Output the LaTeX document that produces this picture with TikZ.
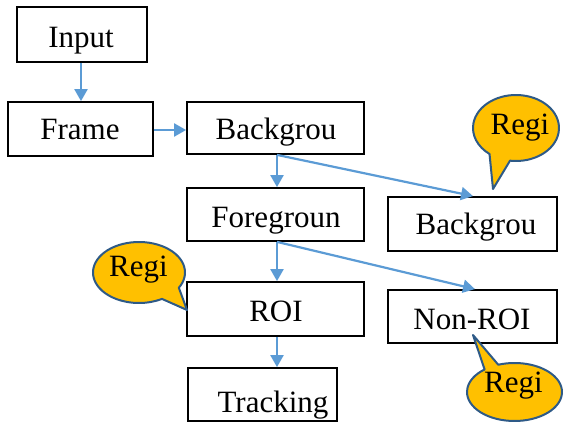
\documentclass[tikz,border=0pt]{standalone}
\usepackage{fontspec}
\setmainfont{Liberation Serif}
\usetikzlibrary{arrows.meta}
\definecolor{arrowblue}{HTML}{5B9BD5}
\definecolor{calloutfill}{HTML}{FFC000}
\definecolor{calloutline}{HTML}{2E5A87}
\begin{document}
\begin{tikzpicture}[x=1pt,y=1pt,
  box/.style={draw=black, line width=1.8pt, inner sep=0pt, fill=white},
  lbl/.style={anchor=base, inner sep=0pt, font=\fontsize{31}{37}\selectfont},
  flow/.style={draw=arrowblue, line width=2.2pt, -{Triangle[length=12pt,width=13pt]}},
  callout/.style={fill=calloutfill, draw=calloutline, line width=2pt, line join=round}]
\useasboundingbox (0,0) rectangle (563,423);

% boxes
\node[box, minimum width=130pt, minimum height=55pt] (input) at (82,388.5) {};
\node[box, minimum width=145pt, minimum height=54pt] (frame) at (80.5,294) {};
\node[box, minimum width=177pt, minimum height=52pt] (bg1) at (275.5,295) {};
\node[box, minimum width=177pt, minimum height=53pt] (fg) at (275.5,208.5) {};
\node[box, minimum width=169pt, minimum height=54pt] (bg2) at (472.5,199) {};
\node[box, minimum width=177pt, minimum height=54pt] (roi) at (275.5,114) {};
\node[box, minimum width=169pt, minimum height=53pt] (nonroi) at (472.5,106.5) {};
\node[box, minimum width=149pt, minimum height=53pt] (track) at (262.5,28.5) {};

% labels
\node[lbl] (tinput) at (81,375) {Input};
\node[lbl] (tframe) at (80,283) {Frame};
\node[lbl] (tbg1) at (276,283) {Backgrou};
\node[lbl] (tfg) at (276,195) {Foregroun};
\node[lbl] (tbg2) at (476,188) {Backgrou};
\node[lbl] (troi) at (276,101) {ROI};
\node[lbl] (tnonroi) at (472,93) {Non-ROI};
\node[lbl] (ttrack) at (273,10) {Tracking};

% connectors
\coordinate (bgout) at ([xshift=1.5pt]bg1.south);
\coordinate (fgout) at ([xshift=1.5pt]fg.south);
\draw[flow] (input.south -| 81,0) -- (frame.north -| 81,0);
\draw[flow] (frame.east |- 0,293) -- (bg1.west |- 0,293);
\draw[flow] (bgout) -- (bgout |- fg.north);
\draw[flow] (bgout) -- ([xshift=0.5pt]bg2.north);
\draw[flow] (fgout) -- (fgout |- roi.north);
\draw[flow] (fgout) -- ([xshift=2.5pt]nonroi.north);
\draw[flow] ([xshift=1.5pt]roi.south) -- ([xshift=1.5pt]roi.south |- track.north);

% callouts
\coordinate (c1) at (516,295);
\coordinate (tip1) at (493,234);
\draw[callout] (c1) ++(262:43 and 33) arc[start angle=262, end angle=592, x radius=43, y radius=33] -- (tip1) -- cycle;
\node[lbl] (r1) at (520,288) {Regi};

\coordinate (c2) at (139,150.5);
\coordinate (tip2) at (187,113);
\draw[callout] (c2) ++(330:46 and 30.5) arc[start angle=330, end angle=660, x radius=46, y radius=30.5] -- (tip2) -- cycle;
\node[lbl] (r2) at (138.5,146) {Regi};

\coordinate (c3) at (514.5,31);
\coordinate (tip3) at (473,88);
\draw[callout] (c3) ++(129:47.5 and 29) arc[start angle=129, end angle=470, x radius=47.5, y radius=29] -- (tip3) -- cycle;
\node[lbl] (r3) at (513.5,30) {Regi};
\end{tikzpicture}
\end{document}
